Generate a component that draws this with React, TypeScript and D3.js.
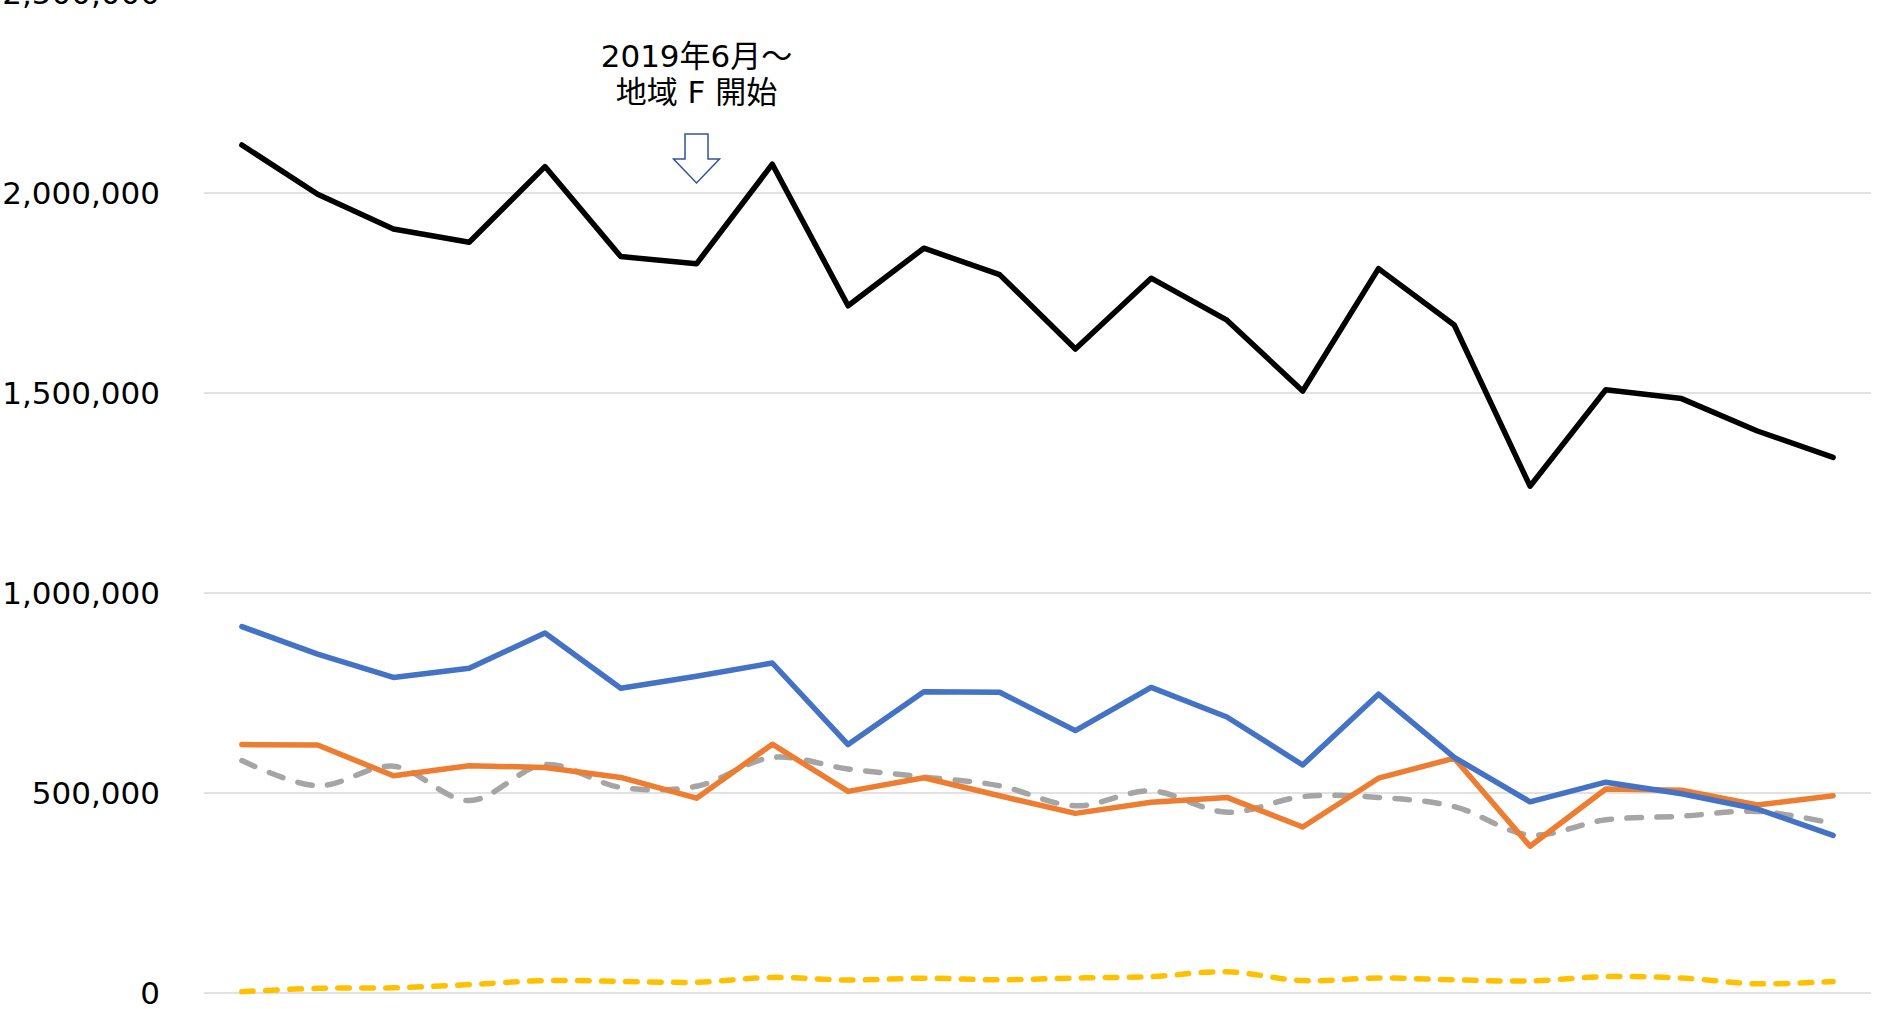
import React from "react";
import * as d3 from "d3";

// months 2018/12 .. 2020/09 (x labels are not shown in the chart)
const months = [
  "2018/12", "2019/01", "2019/02", "2019/03", "2019/04", "2019/05",
  "2019/06", "2019/07", "2019/08", "2019/09", "2019/10", "2019/11",
  "2019/12", "2020/01", "2020/02", "2020/03", "2020/04", "2020/05",
  "2020/06", "2020/07", "2020/08", "2020/09",
];

const total = [
  2120000, 1997000, 1910000, 1877000, 2066000, 1841000, 1823000, 2072000,
  1718000, 1862000, 1796000, 1610000, 1787000, 1682000, 1505000, 1811000,
  1670000, 1267000, 1508000, 1486000, 1405000, 1339000,
];
const seriesBlue = [
  916000, 847000, 789000, 812000, 900000, 762000, 792000, 825000,
  621000, 753000, 752000, 656000, 764000, 690000, 570000, 747000,
  589000, 478000, 527000, 498000, 460000, 394000,
];
const seriesOrange = [
  621000, 620000, 543000, 568000, 564000, 539000, 487000, 622000,
  504000, 538000, 493000, 449000, 477000, 489000, 415000, 537000,
  587000, 367000, 510000, 507000, 470000, 493000,
];
const seriesGray = [
  581000, 518000, 567000, 481000, 571000, 514000, 517000, 589000,
  560000, 540000, 518000, 468000, 505000, 452000, 491000, 489000,
  466000, 395000, 433000, 442000, 454000, 424000,
];
const seriesYellow = [
  3300, 11700, 13000, 21000, 31000, 29000, 27000, 39000,
  32500, 37000, 33000, 37500, 41000, 53000, 31000, 37500,
  33000, 30000, 41000, 37500, 23000, 29000,
];

const yTicks = [0, 500000, 1000000, 1500000, 2000000, 2500000];
const noteLines = ["2019年6月～", "地域 F 開始"];
const noteMonth = "2019/06";

const W = 1883;
const H = 1009;
const plotLeft = 204;
const plotRight = 1871;

export default function App() {
  const x = d3.scaleBand<string>().domain(months).range([plotLeft, plotRight]);
  const cx = (m: string) => (x(m) as number) + x.bandwidth() / 2;
  const y = d3.scaleLinear().domain([0, 2500000]).range([993, -7]);
  const fmt = d3.format(",");

  const straight = d3
    .line<number>()
    .x((_, i) => cx(months[i]))
    .y((d) => y(d));
  const smooth = d3
    .line<number>()
    .x((_, i) => cx(months[i]))
    .y((d) => y(d))
    .curve(d3.curveCatmullRom.alpha(0.5));

  const series = [
    { values: seriesYellow, color: "#FFC000", dash: "11.5,12.5", gen: smooth },
    { values: seriesGray, color: "#A5A5A5", dash: "14.5,15.5", gen: smooth },
    { values: seriesOrange, color: "#ED7D31", dash: undefined, gen: straight },
    { values: seriesBlue, color: "#4472C4", dash: undefined, gen: straight },
    { values: total, color: "#000000", dash: undefined, gen: straight },
  ];

  const ax = cx(noteMonth);
  const arrow = [
    [ax - 11.5, 134],
    [ax + 11.5, 134],
    [ax + 11.5, 159],
    [ax + 23, 159],
    [ax, 183],
    [ax - 23, 159],
    [ax - 11.5, 159],
  ];

  return (
    <svg
      width={W}
      height={H}
      style={{ position: "absolute", left: 0, top: 0, background: "#fff" }}
    >
      {yTicks.map((t) => (
        <g key={t}>
          <line
            x1={plotLeft}
            x2={plotRight}
            y1={y(t)}
            y2={y(t)}
            stroke="#D9D9D9"
            strokeWidth={1.5}
          />
          <text
            x={160}
            y={y(t)}
            textAnchor="end"
            dominantBaseline="central"
            fontFamily="'DejaVu Sans', sans-serif"
            fontSize={31}
            fill="#000"
          >
            {fmt(t)}
          </text>
        </g>
      ))}

      {series.map((s, i) => (
        <path
          key={i}
          d={s.gen(s.values) || ""}
          fill="none"
          stroke={s.color}
          strokeWidth={5.5}
          strokeDasharray={s.dash}
          strokeLinecap="round"
          strokeLinejoin="round"
        />
      ))}

      {/* annotation */}
      <text
        x={ax}
        textAnchor="middle"
        fontFamily="'DejaVu Sans', 'Noto Sans CJK JP', sans-serif"
        fontSize={31}
        fill="#000"
      >
        <tspan x={ax} y={67}>{noteLines[0]}</tspan>
        <tspan x={ax} y={103}>{noteLines[1]}</tspan>
      </text>
      <polygon
        points={arrow.map((p) => p.join(",")).join(" ")}
        fill="#fff"
        stroke="#2F5597"
        strokeWidth={1.5}
      />
    </svg>
  );
}
